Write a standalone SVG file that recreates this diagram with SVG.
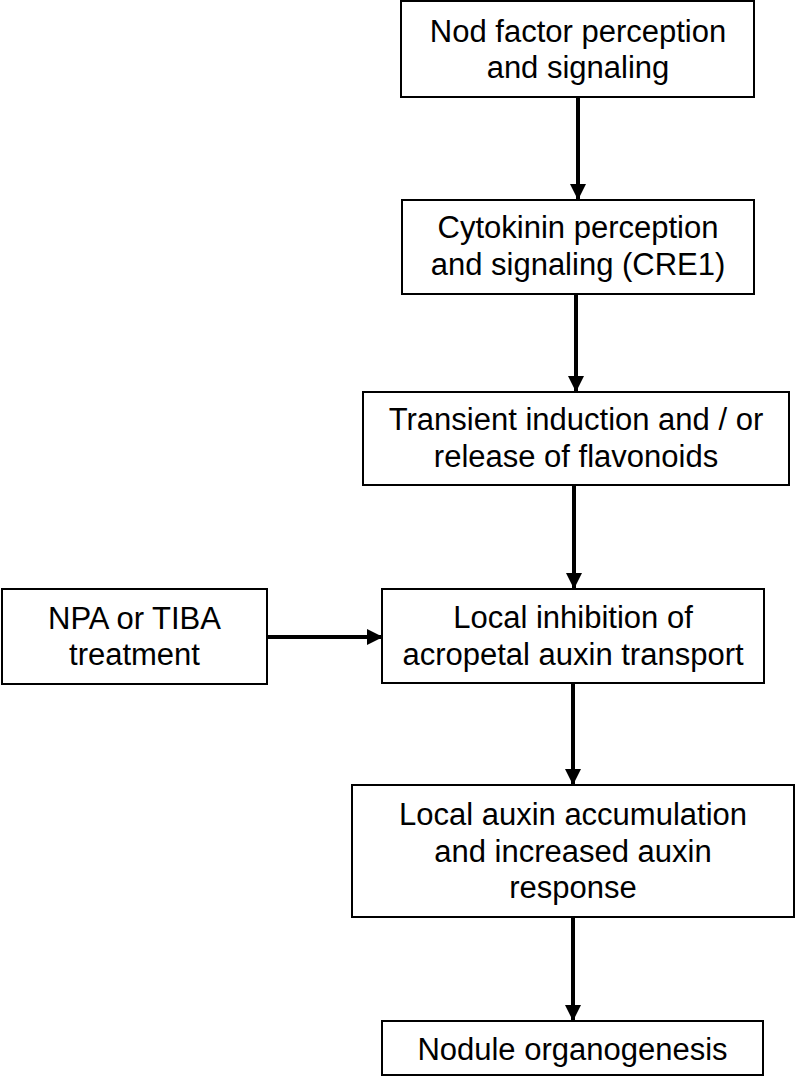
<svg xmlns="http://www.w3.org/2000/svg" width="797" height="1081" viewBox="0 0 797 1081">
<style>
.box{fill:#fff;stroke:#000;stroke-width:2}
.t{font-family:"Liberation Sans",Arial,sans-serif;font-size:31px;fill:#000;text-anchor:middle}
.c{stroke:#000;stroke-width:4;fill:none}
</style>
<defs>
<marker id="ah" markerUnits="userSpaceOnUse" markerWidth="16" markerHeight="16" viewBox="0 0 16 16" refX="16" refY="8" orient="auto">
<path d="M0,0 L16,8 L0,16 Z" fill="#000"/>
</marker>
</defs>
<rect width="797" height="1081" fill="#fff"/>
<g id="connectors">
<line class="c" x1="578" y1="97" x2="578" y2="200" marker-end="url(#ah)"/>
<line class="c" x1="576" y1="294" x2="576" y2="392" marker-end="url(#ah)"/>
<line class="c" x1="574" y1="485" x2="574" y2="589" marker-end="url(#ah)"/>
<line class="c" x1="573" y1="683" x2="573" y2="785" marker-end="url(#ah)"/>
<line class="c" x1="573" y1="917" x2="573" y2="1021" marker-end="url(#ah)"/>
<line class="c" x1="267" y1="637" x2="383" y2="637" marker-end="url(#ah)"/>
</g>
<g id="n1"><rect class="box" x="401" y="1" width="353" height="96"/>
<text class="t" x="578" y="42">Nod factor perception</text><text class="t" x="578" y="78">and signaling</text></g>
<g id="n2"><rect class="box" x="402" y="200" width="352" height="94"/>
<text class="t" x="578" y="238">Cytokinin perception</text><text class="t" x="578" y="275">and signaling (CRE1)</text></g>
<g id="n3"><rect class="box" x="363" y="392" width="426" height="93"/>
<text class="t" x="576" y="430">Transient induction and / or</text><text class="t" x="576" y="467">release of flavonoids</text></g>
<g id="n4"><rect class="box" x="382" y="589" width="382" height="94"/>
<text class="t" x="573" y="628">Local inhibition of</text><text class="t" x="573" y="665">acropetal auxin transport</text></g>
<g id="npa"><rect class="box" x="2" y="589" width="265" height="95"/>
<text class="t" x="134.5" y="629">NPA or TIBA</text><text class="t" x="134.5" y="665">treatment</text></g>
<g id="n5"><rect class="box" x="352" y="785" width="442" height="132"/>
<text class="t" x="573" y="825">Local auxin accumulation</text><text class="t" x="573" y="862">and increased auxin</text><text class="t" x="573" y="898">response</text></g>
<g id="n6"><rect class="box" x="382" y="1021" width="381" height="54"/>
<text class="t" x="572.5" y="1060">Nodule organogenesis</text></g>
</svg>
